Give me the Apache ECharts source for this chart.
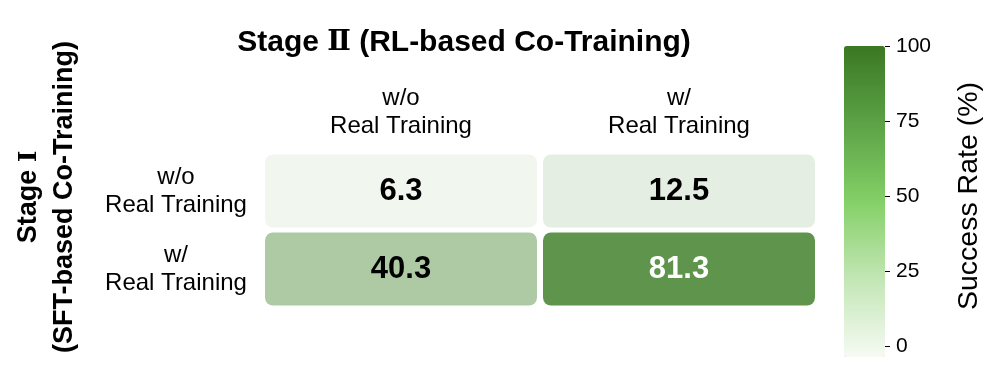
<!DOCTYPE html>
<html>
<head>
<meta charset="utf-8">
<script src="https://cdn.jsdelivr.net/npm/echarts@6/dist/echarts.min.js"></script>
<style>
  html, body { margin: 0; padding: 0; background: #fff; }
  #chart { width: 996px; height: 391px; }
</style>
</head>
<body>
<div id="chart"></div>
<script>
const colLabels = ['w/o\nReal Training', 'w/\nReal Training']
const rowLabels = ['w/o\nReal Training', 'w/\nReal Training']
// rows: Stage I setting, cols: Stage II setting
const rowWoValues = [6.3, 12.5]
const rowWValues = [40.3, 81.3]
const barTicks = [0, 25, 50, 75, 100]

const font = 'Liberation Sans, Arial, Helvetica, sans-serif'
const romanFont = 'DejaVu Serif, serif'

const cells = []
;[rowWoValues, rowWValues].forEach((row, r) => {
	row.forEach((v, c) => cells.push([c, r, v]))
})

const chart = echarts.init(document.getElementById('chart'))

const option = {
	backgroundColor: '#fff',
	textStyle: { fontFamily: font },
	title: {
		text: '{a|Stage }{b|\u2161}{a| (RL-based Co-Training)}',
		left: 459,
		top: 23,
		textAlign: 'center',
		textStyle: {
			rich: {
				a: { fontFamily: font, fontSize: 30, fontWeight: 'bold', color: '#000' },
				b: { fontFamily: romanFont, fontSize: 28, fontWeight: 'bold', color: '#000' }
			}
		}
	},
	grid: [
		{ left: 262, right: 178, top: 152, bottom: 83, outerBoundsMode: 'none' },
		{ left: 844, width: 41, top: 46, height: 300, outerBoundsMode: 'none' }
	],
	xAxis: [
		{
			type: 'category',
			data: colLabels,
			position: 'top',
			axisLine: { show: false },
			axisTick: { show: false },
			axisLabel: { fontSize: 24, lineHeight: 28, color: '#000', margin: 12 }
		},
		{ type: 'value', gridIndex: 1, min: 0, max: 1, show: false }
	],
	yAxis: [
		{
			type: 'category',
			data: rowLabels,
			inverse: true,
			axisLine: { show: false },
			axisTick: { show: false },
			axisLabel: { fontSize: 24, lineHeight: 28, color: '#000', align: 'center', margin: 86 },
			name: '{a|Stage }{b|\u2160}\n{a|(SFT-based Co-Training)}',
			nameLocation: 'middle',
			nameRotate: 90,
			nameGap: 179,
			nameTextStyle: {
				padding: [0, 0, 0, 66],
				rich: {
					a: { fontFamily: font, fontSize: 27, fontWeight: 'bold', lineHeight: 36, color: '#000' },
					b: { fontFamily: romanFont, fontSize: 25, fontWeight: 'bold', lineHeight: 36, color: '#000' }
				}
			}
		},
		{
			type: 'value',
			gridIndex: 1,
			position: 'right',
			min: 0,
			max: 100,
			interval: 25,
			z: 10,
			axisLine: { show: true, onZero: false, lineStyle: { color: 'rgba(0,0,0,0)' } },
			axisTick: { show: true, inside: false, length: 5, lineStyle: { color: '#000', width: 1 } },
			splitLine: { show: false },
			axisLabel: { fontSize: 21, color: '#000', margin: 11 },
			name: 'Success Rate (%)',
			nameLocation: 'middle',
			nameRotate: 90,
			nameGap: 70,
			nameTextStyle: { fontSize: 28.5, color: '#000' }
		}
	],
	visualMap: [
		{
			type: 'continuous',
			seriesIndex: 0,
			dimension: 2,
			min: 0,
			max: 100,
			show: false,
			inRange: { color: ['#fdfefd', '#3a7c22'] }
		},
		{
			type: 'continuous',
			seriesIndex: 1,
			min: -3.6,
			max: 100,
			show: true,
			calculable: false,
			hoverLink: false,
			itemWidth: 41,
			itemHeight: 311,
			left: 844,
			top: 46,
			padding: 0,
			z: 1,
			inRange: { color: ['#f6fbf4', '#c3e6b5', '#84d067', '#5ca246', '#3a7822'] }
		}
	],
	series: [
		{
			type: 'custom',
			data: cells,
			renderItem: (params, api) => {
				const v = api.value(2)
				const c = api.coord([api.value(0), api.value(1)])
				const s = api.size([1, 1])
				return {
					type: 'rect',
					shape: { x: c[0] - s[0] / 2 + 3, y: c[1] - s[1] / 2 + 2.5, width: s[0] - 6, height: s[1] - 5, r: 8 },
					style: { fill: api.visual('color') },
					textContent: {
						style: {
							text: v.toFixed(1),
							fontFamily: font,
							fontSize: 31,
							fontWeight: 'bold',
							fill: v > 60 ? '#fff' : '#000'
						}
					},
					textConfig: { position: 'inside' }
				}
			}
		},
		{ type: 'scatter', data: [], xAxisIndex: 1, yAxisIndex: 1 }
	]
}

chart.setOption(option)
</script>
</body>
</html>
